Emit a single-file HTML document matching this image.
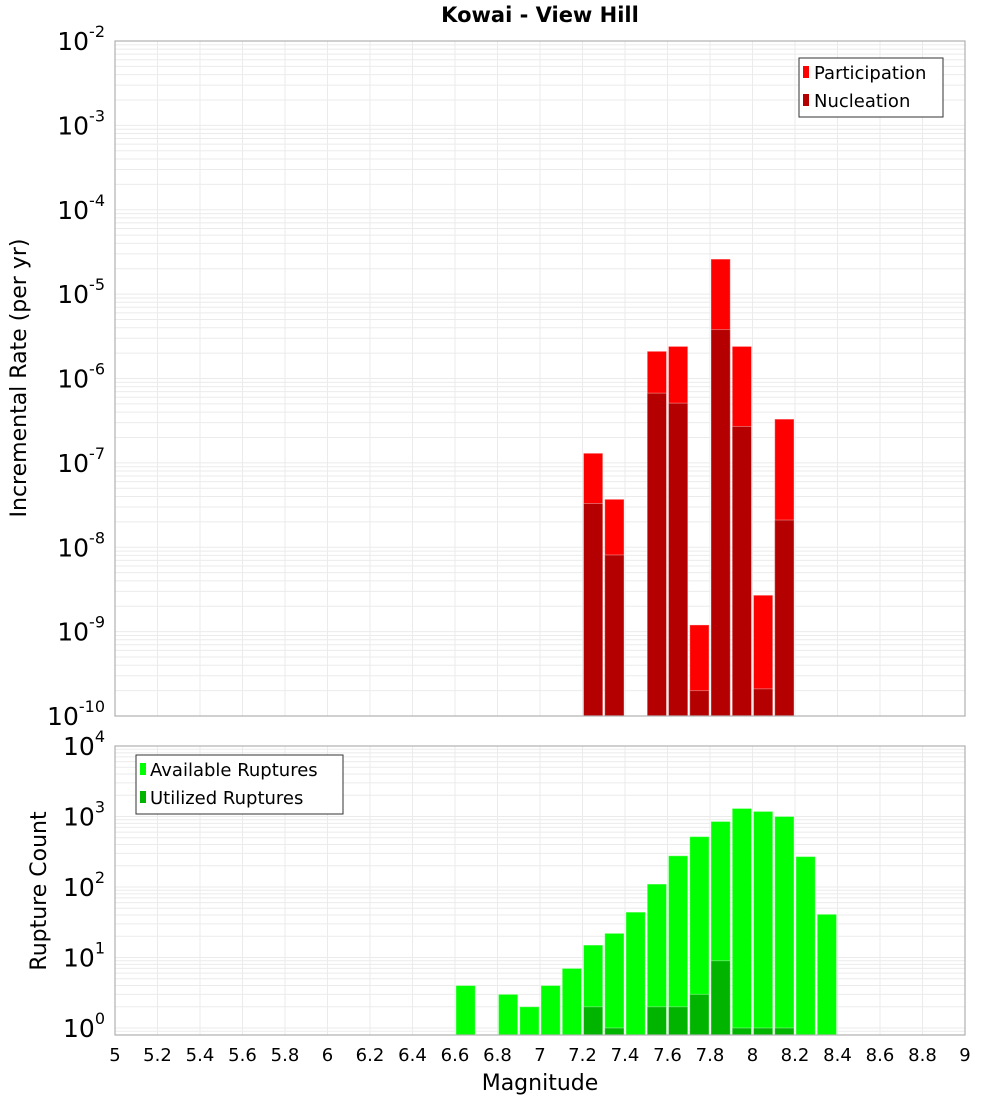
<!DOCTYPE html>
<html><head><meta charset="utf-8"><style>
body{margin:0;background:#fff;}
svg{display:block;font-family:"DejaVu Sans","Liberation Sans",sans-serif;}
</style></head><body>
<svg id="c" width="1000" height="1100" xmlns="http://www.w3.org/2000/svg">
<text x="540" y="22" text-anchor="middle" font-size="21" font-weight="bold">Kowai - View Hill</text>
<g id="top"></g><g id="bot"></g>
<text x="540" y="1090" text-anchor="middle" font-size="22">Magnitude</text>
<text transform="translate(26,378) rotate(-90)" text-anchor="middle" font-size="22">Incremental Rate (per yr)</text>
<text transform="translate(46,891) rotate(-90)" text-anchor="middle" font-size="22">Rupture Count</text>
</svg>
<script>
const mags=[7.25,7.35,7.55,7.65,7.75,7.85,7.95,8.05,8.15];
const participation=[1.3e-7,3.7e-8,2.1e-6,2.4e-6,1.2e-9,2.6e-5,2.4e-6,2.7e-9,3.3e-7];
const nucleation=[3.3e-8,8.1e-9,6.7e-7,5.1e-7,2.0e-10,3.8e-6,2.7e-7,2.1e-10,2.1e-8];
const cmags=[6.65,6.85,6.95,7.05,7.15,7.25,7.35,7.45,7.55,7.65,7.75,7.85,7.95,8.05,8.15,8.25,8.35];
const available=[4,3,2,4,7,15,22,44,110,277,518,850,1300,1180,1000,270,41];
const utilized=[0,0,0,0,0,2,1,0,2,2,3,9,1,1,1,0,0];
const xTicks=["5","5.2","5.4","5.6","5.8","6","6.2","6.4","6.6","6.8","7","7.2","7.4","7.6","7.8","8","8.2","8.4","8.6","8.8","9"];
const NS="http://www.w3.org/2000/svg";
const L=115,R=965,x=m=>L+(m-5)*(R-L)/4;
function mk(p,t,a){const e=document.createElementNS(NS,t);for(const k in a)e.setAttribute(k,a[k]);p.appendChild(e);return e;}
function panel(g,top,bottom,yAt,lo,hi,pfx){
  for(let d=lo;d<hi;d++)for(let k=1;k<10;k++){const y=yAt(Math.pow(10,d)*k);if(y<top||y>bottom)continue;
    const l=mk(g,'line',{x1:L,x2:R,y1:y,y2:y,stroke:'#ebebeb','stroke-width':1});
    
    }
  xTicks.forEach(t=>{const xx=x(+t);
    const l=mk(g,'line',{x1:xx,x2:xx,y1:top,y2:bottom,stroke:'#ebebeb','stroke-width':1});
    
    });
}
function frame(g,top,bottom,pfx){
  const r=mk(g,'rect',{x:L,y:top,width:R-L,height:bottom-top,fill:'none',stroke:'#b0b0b0','stroke-width':1.2});
  
  
}
function ylabel(g,y,exp,pfx){
  const t=mk(g,'text',{x:105,y:y+9,'text-anchor':'end','font-size':25});
  
  
  t.textContent='10';
  const s=mk(t,'tspan',{dy:-13,'font-size':16});s.textContent=exp;
}
function bar(g,m,yv,bottom,fill,name){
  const r=mk(g,'rect',{x:x(m-0.05)+1,y:yv,width:x(m+0.05)-x(m-0.05)-2,height:bottom-yv,fill:fill,stroke:'#ffffff','stroke-opacity':0.35,'stroke-width':1});
  
  
}
// top panel
const g1=document.getElementById('top');const T1=41,B1=716;
const y1=v=>T1+(-2-Math.log10(v))*(B1-T1)/8;
panel(g1,T1,B1,y1,-10,-2,'top');
mags.forEach((m,i)=>{bar(g1,m,y1(participation[i]),B1,'#ff0000','participation-bar');});
mags.forEach((m,i)=>{bar(g1,m,y1(nucleation[i]),B1,'#b40000','nucleation-bar');});
frame(g1,T1,B1,'top');
for(let d=-2;d>=-10;d--)ylabel(g1,y1(Math.pow(10,d)),String(d),'top');
// top legend
(function(){const lg=mk(g1,'g',{});
 mk(lg,'rect',{x:799,y:58,width:144,height:59,fill:'#fff',stroke:'#333'});
 [['Participation','#ff0000',73],['Nucleation','#b40000',101]].forEach(([n,c,yy])=>{
  const e=mk(lg,'g',{});
  mk(e,'rect',{x:803,y:yy-7,width:6,height:12,fill:c});
  const t=mk(e,'text',{x:814,y:yy+6,'font-size':18});t.textContent=n;});})();
// bottom panel
const g2=document.getElementById('bot');const T2=746,B2=1035;
const y2=v=>T2+(4-Math.log10(v))*70.5;
panel(g2,T2,B2,y2,-1,4,'bottom');
cmags.forEach((m,i)=>{bar(g2,m,y2(available[i]),B2,'#00ff00','available-bar');});
cmags.forEach((m,i)=>{if(utilized[i]>0)bar(g2,m,y2(utilized[i]),B2,'#00b400','utilized-bar');});
frame(g2,T2,B2,'bottom');
for(let d=4;d>=0;d--)ylabel(g2,y2(Math.pow(10,d)),String(d),'bottom');
(function(){const lg=mk(g2,'g',{});
 mk(lg,'rect',{x:136,y:755,width:207,height:59,fill:'#fff',stroke:'#333'});
 [['Available Ruptures','#00ff00',770],['Utilized Ruptures','#00b400',798]].forEach(([n,c,yy])=>{
  const e=mk(lg,'g',{});
  mk(e,'rect',{x:140,y:yy-7,width:6,height:12,fill:c});
  const t=mk(e,'text',{x:150,y:yy+6,'font-size':18});t.textContent=n;});})();
xTicks.forEach(t=>{const e=mk(g2,'text',{x:x(+t),y:1061,'text-anchor':'middle','font-size':18});
 
 
 e.textContent=t;});
</script>
</body></html>
